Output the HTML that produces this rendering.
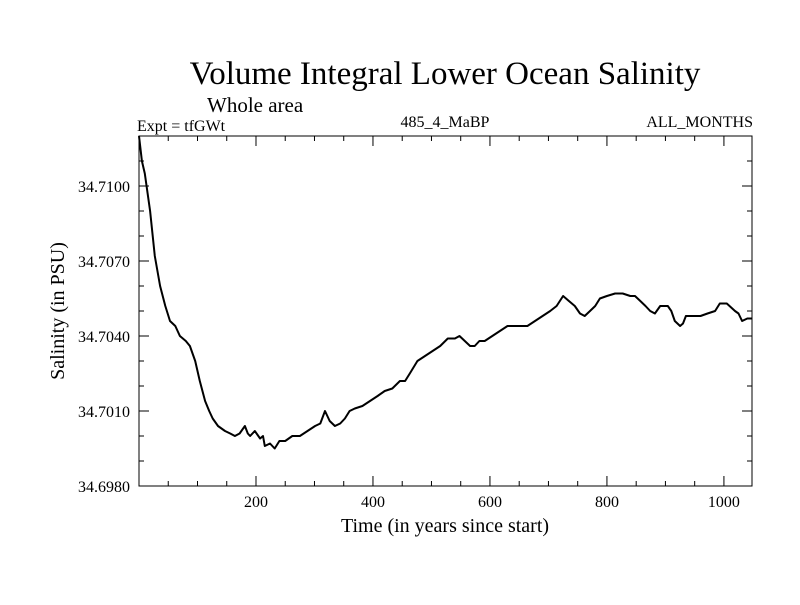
<!DOCTYPE html>
<html><head><meta charset="utf-8"><style>
body{margin:0;background:#fff}
svg text{font-family:"Liberation Serif",serif;fill:#000}
</style></head><body>
<svg width="800" height="600">
<text x="445" y="84" font-size="33" text-anchor="middle">Volume Integral Lower Ocean Salinity</text>
<text x="207" y="112" font-size="21">Whole area</text>
<text x="137" y="131" font-size="16">Expt = tfGWt</text>
<text x="445" y="127" font-size="16" text-anchor="middle">485_4_MaBP</text>
<text x="753" y="127" font-size="16" text-anchor="end">ALL_MONTHS</text>
<text x="445" y="532" font-size="20" text-anchor="middle">Time (in years since start)</text>
<text transform="translate(64,311) rotate(-90)" font-size="20" text-anchor="middle">Salinity (in PSU)</text>
<g id="axes"></g>
<path id="line" fill="none" stroke="#000" stroke-width="2" stroke-linejoin="round"/>
<rect x="139" y="136" width="613" height="350" fill="none" stroke="#000" stroke-width="1"/>
</svg>
<script>
const years=[0,5,10,19,27,36,45,53,62,70,80,87,96,104,113,120,126,135,147,156,164,172,181,186,190,198,207,212,215,224,232,240,250,262,275,288,301,310,318,326,335,344,352,360,369,382,395,408,420,433,446,455,463,476,489,502,515,528,540,548,557,566,574,582,591,604,617,630,651,664,677,690,703,714,725,735,745,754,762,771,780,788,800,814,827,840,848,857,866,874,882,891,898,904,910,916,925,930,935,948,960,972,985,993,1005,1019,1025,1031,1040,1048];
const salinity=[34.7120,34.7110,34.7105,34.7090,34.7072,34.7060,34.7052,34.7046,34.7044,34.7040,34.7038,34.7036,34.7030,34.7022,34.7014,34.7010,34.7007,34.7004,34.7002,34.7001,34.7000,34.7001,34.7004,34.7001,34.7000,34.7002,34.6999,34.7000,34.6996,34.6997,34.6995,34.6998,34.6998,34.7000,34.7000,34.7002,34.7004,34.7005,34.7010,34.7006,34.7004,34.7005,34.7007,34.7010,34.7011,34.7012,34.7014,34.7016,34.7018,34.7019,34.7022,34.7022,34.7025,34.7030,34.7032,34.7034,34.7036,34.7039,34.7039,34.7040,34.7038,34.7036,34.7036,34.7038,34.7038,34.7040,34.7042,34.7044,34.7044,34.7044,34.7046,34.7048,34.7050,34.7052,34.7056,34.7054,34.7052,34.7049,34.7048,34.7050,34.7052,34.7055,34.7056,34.7057,34.7057,34.7056,34.7056,34.7054,34.7052,34.7050,34.7049,34.7052,34.7052,34.7052,34.7050,34.7046,34.7044,34.7045,34.7048,34.7048,34.7048,34.7049,34.7050,34.7053,34.7053,34.7050,34.7049,34.7046,34.7047,34.7047];
const xMajor=[200,400,600,800,1000];
const yMajor=[34.6980,34.7010,34.7040,34.7070,34.7100];
const yLabels=["34.6980","34.7010","34.7040","34.7070","34.7100"];
const X0=139,X1=752,Y0=486,Y1=136,XMAX=1048,YMIN=34.698,YMAX=34.712;
const sx=v=>X0+(v/XMAX)*(X1-X0);
const sy=v=>Y0-(v-YMIN)/(YMAX-YMIN)*(Y0-Y1);
const ns="http://www.w3.org/2000/svg",g=document.getElementById('axes');
function ln(x1,y1,x2,y2){const l=document.createElementNS(ns,'line');l.setAttribute('x1',x1);l.setAttribute('y1',y1);l.setAttribute('x2',x2);l.setAttribute('y2',y2);l.setAttribute('stroke','#000');


g.appendChild(l);}
function tx(x,y,s,a){const t=document.createElementNS(ns,'text');t.setAttribute('x',x);t.setAttribute('y',y);t.setAttribute('font-size','16');t.setAttribute('text-anchor',a);t.textContent=s;


g.appendChild(t);}
for(let v=50;v<XMAX;v+=50){const x=sx(v),L=(v%200===0)?10:5;ln(x,Y0,x,Y0-L);ln(x,Y1,x,Y1+L);}
xMajor.forEach(v=>tx(sx(v),507,String(v),'middle'));
for(let k=0;k<=14;k++){const v=YMIN+k*0.001,y=sy(v),L=(k%3===0)?10:5;ln(X0,y,X0+L,y);ln(X1,y,X1-L,y);}
yMajor.forEach((v,i)=>tx(130,sy(v)+6,yLabels[i],'end'));
document.getElementById('line').setAttribute('d',years.map((y,i)=>(i?'L':'M')+sx(y).toFixed(1)+','+sy(salinity[i]).toFixed(1)).join(''));
</script>
</body></html>
